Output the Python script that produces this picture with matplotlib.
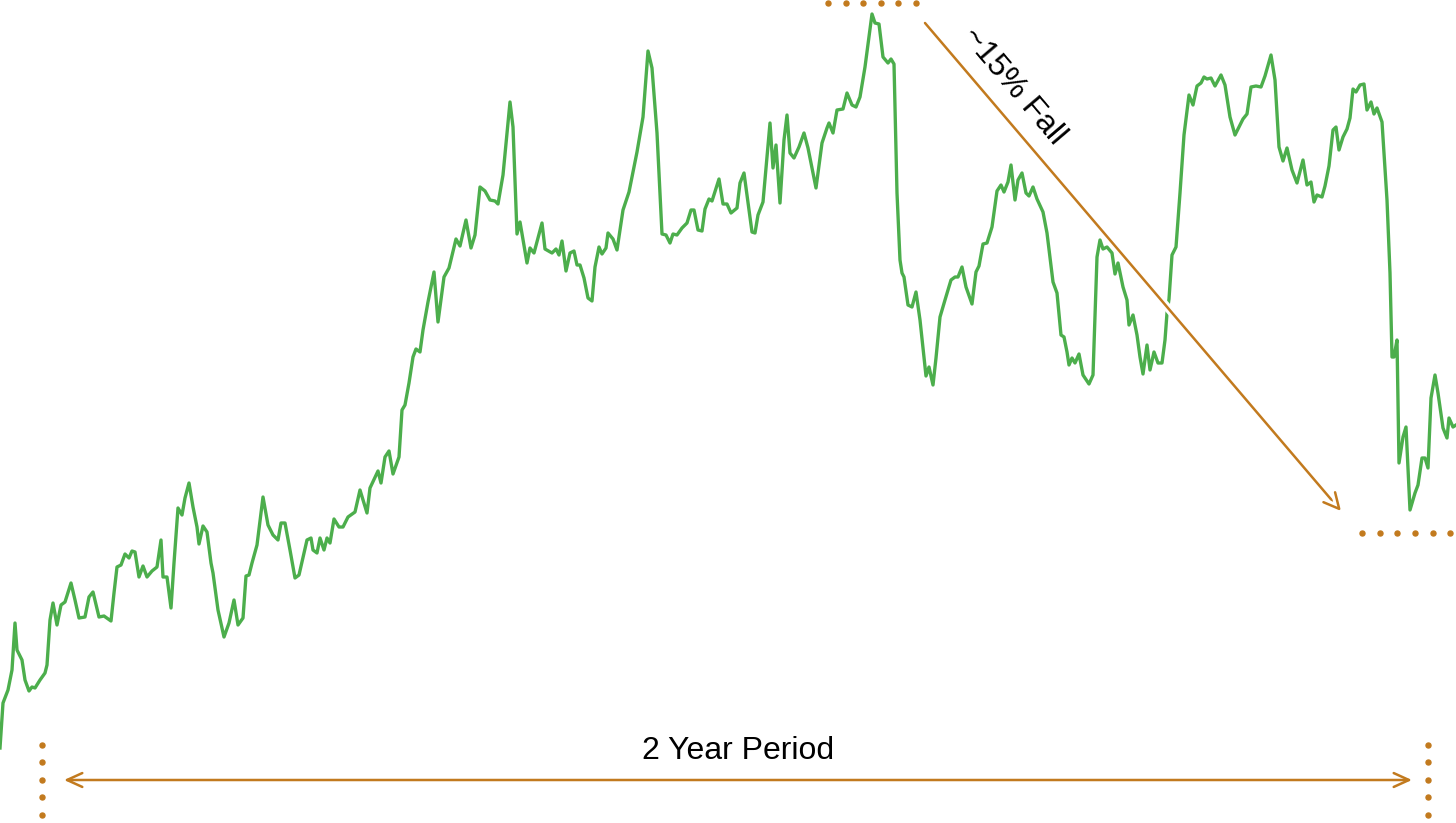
import matplotlib
matplotlib.use("Agg")
import matplotlib.pyplot as plt
import matplotlib.patheffects as pe

# price trace: x = day position, y = screen row (lower row = higher price)
days = [0, 3, 8, 12, 15, 17, 22, 25, 29, 32, 35, 40, 45, 47, 50, 53, 57, 61, 65, 71,
        75, 79, 85, 89, 93, 99, 104, 111, 114, 117, 121, 125, 129, 132, 135, 139, 143, 147, 152, 157,
        161, 163, 167, 171, 174, 178, 182, 185, 189, 193, 197, 199, 203, 207, 211, 213, 218, 224, 229, 234,
        238, 243, 246, 249, 252, 257, 263, 268, 273, 278, 281, 285, 290, 295, 299, 307, 311, 313, 317, 320,
        324, 327, 330, 334, 339, 343, 348, 355, 360, 367, 370, 378, 381, 385, 389, 393, 399, 402, 405, 409,
        413, 416, 420, 423, 428, 434, 438, 444, 449, 456, 460, 466, 471, 475, 480, 485, 490, 495, 498, 503,
        510, 513, 517, 520, 527, 530, 534, 542, 545, 552, 556, 559, 562, 566, 570, 574, 577, 580, 584, 588,
        592, 595, 599, 602, 606, 608, 613, 617, 623, 629, 637, 643, 648, 652, 657, 662, 666, 670, 673, 677,
        682, 687, 691, 694, 698, 702, 705, 709, 712, 719, 723, 727, 731, 737, 740, 744, 752, 755, 758, 763,
        767, 770, 773, 776, 780, 784, 787, 790, 794, 799, 804, 808, 816, 822, 827, 829, 833, 837, 843, 847,
        852, 856, 860, 865, 872, 875, 879, 883, 888, 891, 894, 897, 900, 902, 904, 908, 912, 916, 920, 926,
        929, 933, 936, 940, 945, 951, 955, 958, 962, 966, 972, 976, 979, 983, 987, 992, 997, 1001, 1004, 1008,
        1011, 1015, 1018, 1022, 1026, 1029, 1033, 1037, 1043, 1047, 1053, 1057, 1061, 1064, 1067, 1069, 1072, 1075, 1079, 1083,
        1089, 1093, 1097, 1100, 1103, 1107, 1112, 1115, 1118, 1123, 1127, 1129, 1133, 1137, 1140, 1143, 1147, 1150, 1154, 1158,
        1162, 1165, 1167, 1169, 1172, 1176, 1180, 1184, 1189, 1193, 1197, 1201, 1204, 1207, 1211, 1215, 1221, 1225, 1230, 1235,
        1240, 1243, 1247, 1251, 1256, 1261, 1265, 1271, 1275, 1279, 1283, 1287, 1292, 1297, 1303, 1307, 1311, 1314, 1317, 1322,
        1325, 1329, 1333, 1336, 1339, 1343, 1347, 1350, 1353, 1356, 1360, 1364, 1367, 1371, 1374, 1377, 1382, 1387, 1390, 1392,
        1394, 1397, 1399, 1403, 1406, 1410, 1415, 1418, 1422, 1425, 1428, 1431, 1435, 1438, 1443, 1447, 1449, 1453, 1456]
rows = [748, 703, 690, 670, 623, 650, 660, 680, 691, 687, 688, 680, 673, 665, 620, 603, 625, 605, 602, 583,
        600, 618, 617, 597, 592, 617, 616, 621, 593, 567, 565, 554, 558, 551, 552, 577, 566, 577, 571, 567,
        540, 577, 577, 608, 563, 508, 515, 498, 483, 507, 527, 544, 526, 532, 563, 573, 610, 637, 623, 600,
        625, 618, 576, 575, 563, 545, 497, 525, 535, 540, 523, 523, 550, 578, 575, 540, 538, 550, 553, 538,
        550, 538, 543, 519, 527, 527, 517, 512, 490, 513, 488, 471, 483, 457, 451, 474, 457, 410, 405, 383,
        357, 349, 352, 330, 302, 272, 322, 277, 268, 239, 246, 220, 248, 235, 187, 191, 200, 201, 204, 175,
        102, 127, 234, 222, 263, 248, 253, 223, 249, 253, 249, 255, 241, 271, 253, 251, 265, 265, 278, 298,
        301, 267, 247, 254, 248, 233, 239, 250, 210, 192, 152, 117, 51, 68, 133, 234, 235, 243, 234, 235,
        228, 223, 210, 210, 230, 231, 209, 199, 201, 179, 204, 204, 213, 208, 183, 173, 232, 233, 215, 202,
        157, 123, 168, 145, 203, 140, 115, 153, 158, 147, 133, 148, 188, 143, 128, 123, 133, 110, 109, 93,
        105, 107, 97, 67, 14, 23, 24, 57, 63, 59, 64, 193, 260, 273, 277, 305, 307, 292, 320, 376,
        367, 385, 358, 317, 300, 280, 277, 277, 267, 287, 304, 272, 266, 244, 243, 227, 191, 185, 192, 182,
        165, 200, 180, 173, 193, 196, 187, 199, 212, 233, 282, 293, 335, 337, 352, 365, 358, 363, 354, 375,
        384, 375, 257, 240, 249, 247, 253, 274, 263, 287, 300, 325, 315, 335, 357, 374, 345, 370, 352, 363,
        363, 340, 313, 299, 255, 247, 193, 135, 95, 105, 86, 83, 77, 79, 78, 86, 75, 85, 117, 135,
        125, 119, 114, 87, 86, 87, 76, 55, 80, 147, 161, 148, 170, 183, 160, 185, 182, 202, 195, 197,
        186, 166, 130, 127, 150, 137, 129, 118, 89, 92, 85, 84, 110, 102, 114, 108, 122, 200, 273, 357,
        357, 340, 463, 437, 427, 510, 493, 485, 458, 458, 468, 398, 375, 393, 428, 438, 418, 427, 425]

period_label = "2 Year Period"
fall_label = "~15% Fall"

green = "#4cae4c"
orange = "#c27a1e"

plt.rcParams["font.family"] = ["Liberation Sans", "DejaVu Sans"]

fig = plt.figure(figsize=(14.56, 8.23), dpi=100)
ax = fig.add_axes([0, 0, 1, 1])
ax.set_xlim(0, 1456)
ax.set_ylim(823, 0)
ax.axis("off")

ax.plot(days, rows, color=green, lw=2.4, solid_joinstyle="round", zorder=2)

# dotted markers for the peak, trough and period ends
dot = dict(ls="none", marker="o", ms=3.6, color=orange, zorder=3)
ax.plot([828, 846, 863, 881, 898, 916], [3] * 6, **dot)
ax.plot([1362, 1380, 1397, 1415, 1433, 1450], [533] * 6, **dot)
ax.plot([42] * 5, [745, 762, 780, 797, 815], **dot)
ax.plot([1428] * 5, [745, 762, 780, 797, 815], **dot)

# fall arrow, with a white halo where it crosses the line
ax.annotate("", xy=(1341, 511), xytext=(925, 23),
            arrowprops=dict(arrowstyle="->,head_length=1.1,head_width=0.55", color=orange, lw=1.8,
                            shrinkA=0, shrinkB=0,
                            path_effects=[pe.Stroke(linewidth=6, foreground="white"), pe.Normal()]),
            zorder=4)
ax.text(1014, 86, fall_label, fontsize=23, rotation=-49.6, rotation_mode="anchor",
        ha="center", va="center", color="black", zorder=5)

# period arrow
ax.annotate("", xy=(64, 780), xytext=(1412, 780),
            arrowprops=dict(arrowstyle="<->,head_length=1.1,head_width=0.5", color=orange, lw=1.8,
                            shrinkA=0, shrinkB=0),
            zorder=4)
ax.text(738, 751, period_label, fontsize=23, ha="center", va="center", color="black")

fig.savefig("out.png", dpi=100, facecolor="white")
